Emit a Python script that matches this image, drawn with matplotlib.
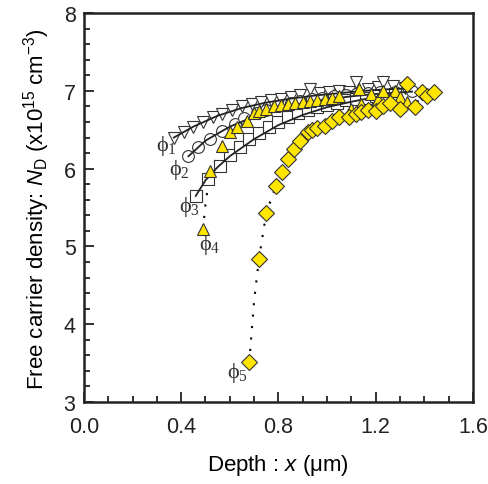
import matplotlib.pyplot as plt
from matplotlib.ticker import MultipleLocator

# phi_1 : open down triangles
x1 = [0.37, 0.41, 0.45, 0.49, 0.53, 0.57, 0.61, 0.65, 0.69, 0.73, 0.77, 0.81, 0.85,
      0.89, 0.93, 0.97, 1.01, 1.05, 1.09, 1.12, 1.17, 1.21, 1.23, 1.27, 1.32]
y1 = [6.40, 6.47, 6.53, 6.60, 6.66, 6.70, 6.76, 6.80, 6.83, 6.86, 6.88, 6.90, 6.92,
      6.95, 7.02, 6.97, 6.98, 7.00, 6.98, 7.11, 7.02, 7.05, 7.11, 7.06, 7.04]
# phi_2 : open circles
x2 = [0.43, 0.47, 0.52, 0.57, 0.62, 0.66, 0.71, 0.75, 0.80, 0.85, 0.89, 0.94, 0.98,
      1.03, 1.08, 1.12, 1.17, 1.22, 1.28, 1.35]
y2 = [6.16, 6.28, 6.38, 6.48, 6.58, 6.65, 6.71, 6.76, 6.80, 6.84, 6.87, 6.89, 6.91,
      6.93, 6.95, 6.96, 6.97, 6.98, 6.99, 7.00]
# phi_3 : open squares
x3 = [0.46, 0.51, 0.56, 0.60, 0.64, 0.68, 0.72, 0.76, 0.80, 0.84, 0.88, 0.92, 0.96,
      1.00, 1.04, 1.08, 1.12, 1.16, 1.20, 1.24, 1.28]
y3 = [5.65, 5.87, 6.03, 6.17, 6.28, 6.38, 6.46, 6.53, 6.60, 6.66, 6.71, 6.75, 6.79,
      6.82, 6.85, 6.88, 6.90, 6.91, 6.93, 6.95, 6.96]
# phi_4 : yellow up triangles
x4 = [0.49, 0.52, 0.57, 0.60, 0.63, 0.67, 0.70, 0.72, 0.75, 0.78, 0.81, 0.84, 0.87,
      0.90, 0.93, 0.96, 0.99, 1.02, 1.05, 1.10, 1.13, 1.14, 1.18, 1.21, 1.23, 1.28,
      1.30, 1.33]
y4 = [5.22, 5.97, 6.29, 6.47, 6.53, 6.61, 6.71, 6.74, 6.77, 6.80, 6.82, 6.83, 6.85,
      6.86, 6.87, 6.88, 6.90, 6.91, 6.93, 6.77, 7.02, 6.83, 6.96, 6.90, 7.00, 7.00,
      6.92, 6.86]
# phi_5 : yellow diamonds
x5 = [0.68, 0.72, 0.75, 0.79, 0.815, 0.84, 0.865, 0.89, 0.92, 0.94, 0.96, 0.99, 1.02,
      1.05, 1.09, 1.12, 1.14, 1.17, 1.20, 1.23, 1.26, 1.30, 1.33, 1.36, 1.39, 1.41, 1.44]
y5 = [3.51, 4.84, 5.43, 5.78, 5.96, 6.12, 6.25, 6.35, 6.47, 6.50, 6.52, 6.55, 6.61,
      6.66, 6.66, 6.70, 6.73, 6.75, 6.74, 6.80, 6.85, 6.77, 7.09, 6.79, 6.98, 6.93, 6.98]

# fitted curves
fx1 = [0.37, 0.45, 0.55, 0.65, 0.75, 0.85, 0.95, 1.05, 1.15, 1.25, 1.33]
fy1 = [6.40, 6.54, 6.68, 6.78, 6.85, 6.90, 6.94, 6.97, 7.00, 7.02, 7.03]
fx2 = [0.43, 0.50, 0.60, 0.70, 0.80, 0.90, 1.00, 1.10, 1.20, 1.30, 1.35]
fy2 = [6.16, 6.36, 6.54, 6.67, 6.77, 6.84, 6.89, 6.93, 6.96, 6.98, 6.99]
fx3 = [0.46, 0.50, 0.55, 0.60, 0.70, 0.80, 0.90, 1.00, 1.10, 1.20, 1.30]
fy3 = [5.65, 5.85, 6.02, 6.16, 6.38, 6.56, 6.69, 6.79, 6.86, 6.92, 6.96]
fx4 = [0.49, 0.50, 0.52, 0.55, 0.57]
fy4 = [5.22, 5.55, 5.97, 6.17, 6.29]
fx5 = [0.68, 0.70, 0.72, 0.75, 0.79, 0.84, 0.89, 0.95, 1.05, 1.20, 1.40]
fy5 = [3.51, 4.30, 4.84, 5.43, 5.78, 6.12, 6.35, 6.50, 6.66, 6.78, 6.88]

labels = ["1", "2", "3", "4", "5"]
label_x = [0.295, 0.35, 0.39, 0.472, 0.59]
label_y = [6.30, 6.00, 5.52, 5.03, 3.39]

plt.rcParams["font.family"] = ["Liberation Sans", "DejaVu Sans"]
plt.rcParams["mathtext.fontset"] = "custom"
plt.rcParams["mathtext.rm"] = "Liberation Serif"
plt.rcParams["mathtext.sf"] = "Liberation Sans"
plt.rcParams["mathtext.it"] = "Liberation Sans:italic"

fig = plt.figure(figsize=(4.88, 4.85), dpi=100)
ax = fig.add_axes([0.172, 0.169, 0.797, 0.802])

yellow = "#ffe500"
edge = "#333333"
dots = (0, (1, 4.5))

ax.plot(fx5, fy5, color="black", lw=1.5, linestyle=dots, zorder=1)
ax.plot(fx4, fy4, color="black", lw=1.5, linestyle=dots, zorder=1)

ax.plot(x1, y1, "v", ms=8.5, mfc="white", mec=edge, mew=0.8, ls="none", zorder=2)
ax.plot(x2, y2, "o", ms=8.5, mfc="white", mec=edge, mew=0.8, ls="none", zorder=2)
ax.plot(x3, y3, "s", ms=8, mfc="white", mec=edge, mew=0.8, ls="none", zorder=2)
ax.plot(fx1, fy1, color="#222222", lw=1.3, zorder=3)
ax.plot(fx2, fy2, color="#222222", lw=1.3, zorder=3)
ax.plot(fx3, fy3, color="#222222", lw=1.3, zorder=3)
ax.plot(x4, y4, "^", ms=8.5, mfc=yellow, mec=edge, mew=0.8, ls="none", zorder=4)
ax.plot(x5, y5, "D", ms=8, mfc=yellow, mec=edge, mew=0.8, ls="none", zorder=4)

for lab, lx, ly in zip(labels, label_x, label_y):
    ax.text(lx, ly, r"$\mathrm{\phi}_{\mathrm{" + lab + "}}$", fontsize=16,
            color="#333333", ha="left", va="center")

ax.set_xlim(0, 1.6)
ax.set_ylim(3, 8)
ax.xaxis.set_major_locator(MultipleLocator(0.4))
ax.xaxis.set_minor_locator(MultipleLocator(0.1))
ax.yaxis.set_major_locator(MultipleLocator(1))
ax.yaxis.set_minor_locator(MultipleLocator(0.2))
ax.set_xticklabels([f"{v:.1f}" for v in ax.get_xticks()])
ax.tick_params(which="both", direction="in", labelsize=15.5, width=1.3,
               top=False, right=False, colors="#222222")
ax.tick_params(which="major", length=7)
ax.tick_params(axis="x", which="major", pad=10)
ax.tick_params(axis="y", which="major", pad=6)
ax.tick_params(which="minor", length=4)
for s in ax.spines.values():
    s.set_linewidth(1.8)
    s.set_color("#222222")

ax.set_xlabel(r"Depth : $\mathit{x}$ ($\mathsf{\mu}$m)", fontsize=16, labelpad=11)
ax.set_ylabel(r"Free carrier density: $\mathit{N}_{\mathsf{D}}$ (x10$^{\mathsf{15}}$ cm$^{\mathsf{-3}}$)",
              fontsize=16, labelpad=8)

fig.savefig("out.png", dpi=100)
